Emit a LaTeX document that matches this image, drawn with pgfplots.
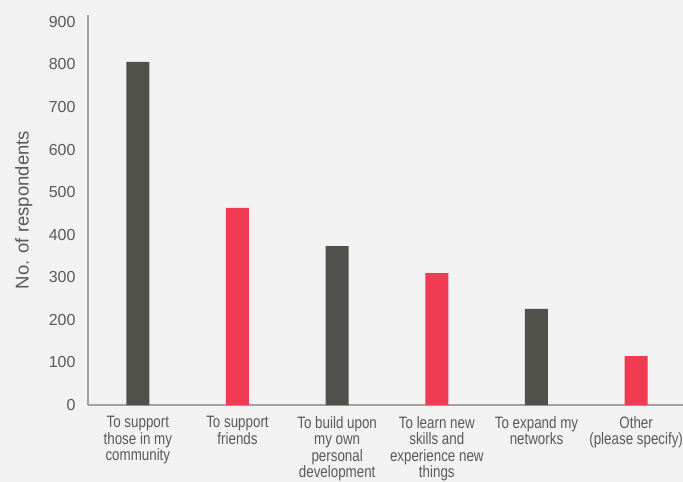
\documentclass[border=0pt]{standalone}
\usepackage{pgfplots}
\pgfplotsset{compat=1.18}
\usepackage{fontspec}
\setmainfont{Liberation Sans}
\newfontfamily\condfont{Liberation Sans}[FakeStretch=0.81]
\definecolor{bgcol}{HTML}{F2F2F2}
\definecolor{darkbar}{HTML}{51514C}
\definecolor{redbar}{HTML}{F03B53}
\definecolor{txt}{HTML}{595959}
\definecolor{axcol}{HTML}{A3A09D}
\begin{document}
\begin{tikzpicture}
\fill[bgcol] (0,0) rectangle (683bp,482bp);
\path[use as bounding box] (0,0) rectangle (683bp,482bp);
\begin{axis}[
  at={(88bp,77bp)}, anchor=south west,
  scale only axis, width=595bp, height=390bp,
  xmin=-0.5, xmax=5.47, ymin=0, ymax=916,
  axis lines*=left,
  axis line style={axcol, line width=1.6bp},
  ytick={0,100,...,900},
  xtick={0,1,2,3,4,5},
  xticklabels={{To support\\those in my\\community},{To support\\friends},{To build upon\\my own\\personal\\development},{To learn new\\skills and\\experience new\\things},{To expand my\\networks},{Other\\(please specify)}},
  major tick length=0pt,
  /pgf/number format/assume math mode=true,
  yticklabel style={font=\fontsize{16}{17}\selectfont, text=txt, xshift=-9bp},
  xticklabel style={font=\condfont\fontsize{16.5bp}{16.4bp}\selectfont, text=txt, align=center, yshift=-8bp},
  ylabel={No. of respondents},
  every axis y label/.style={at={(axis description cs:-0.108,0.5)}, rotate=90, anchor=center, font=\fontsize{18.5bp}{20bp}\selectfont, text=txt},
  clip=false,
]
\addplot[ybar, bar width=23bp, fill=darkbar, draw=none] coordinates {(0,806) (2,373) (4,226)};
\addplot[ybar, bar width=23bp, fill=redbar, draw=none] coordinates {(1,463) (3,310) (5,115)};
\end{axis}
\end{tikzpicture}
\end{document}
